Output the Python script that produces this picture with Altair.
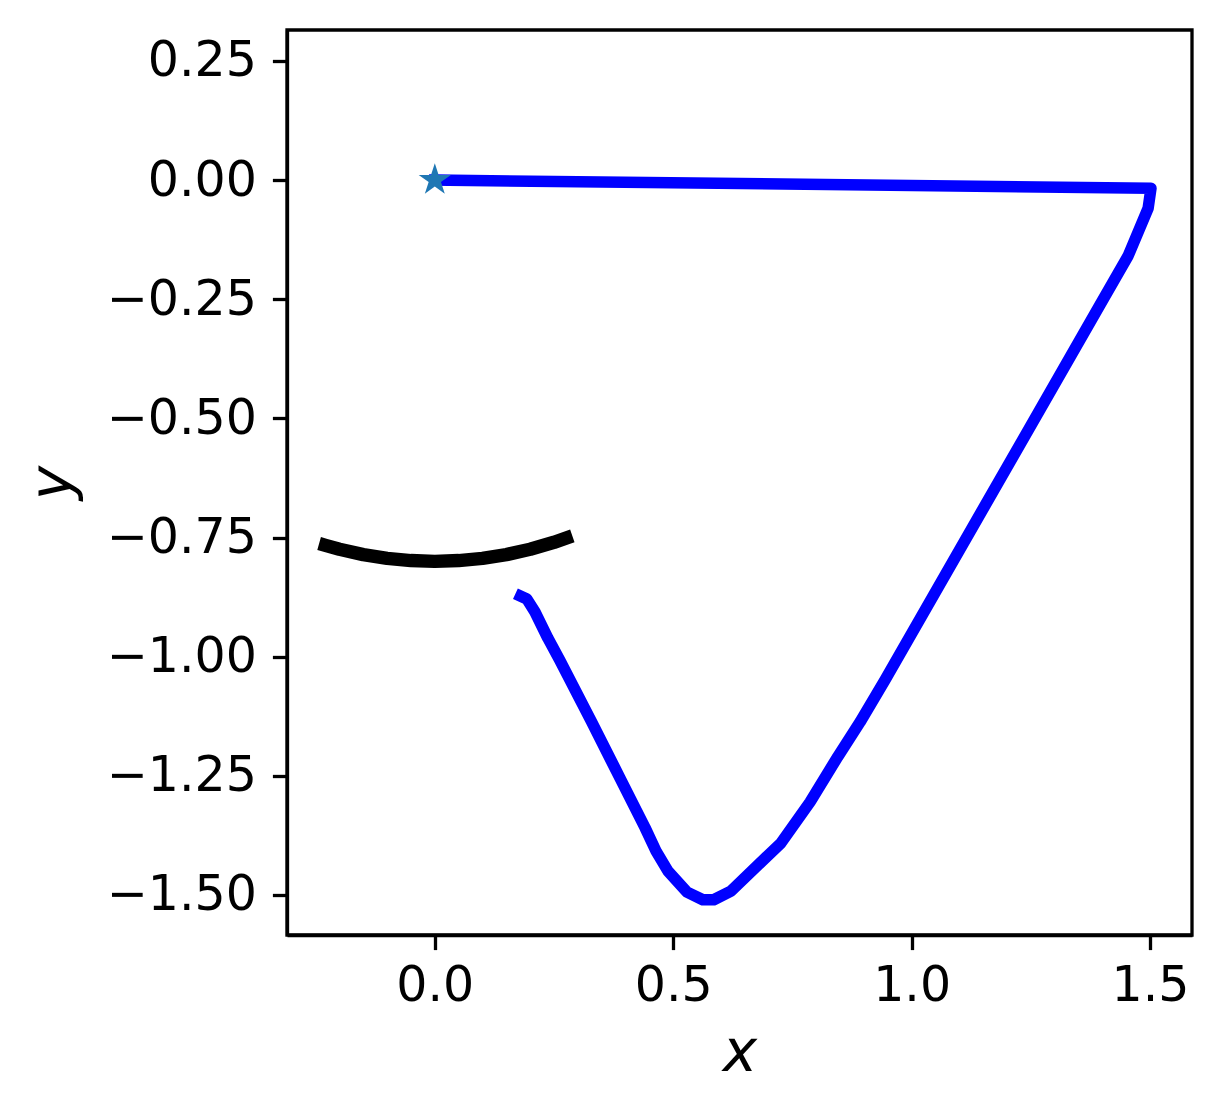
import altair as alt
import pandas as pd

# Blue trajectory
traj_x = [0.0, 1.502, 1.496, 1.454, 1.395, 0.944, 0.892, 0.845, 0.787, 0.726,
          0.621, 0.585, 0.562, 0.529, 0.489, 0.464, 0.441, 0.388, 0.329, 0.262,
          0.237, 0.210, 0.193, 0.180]
traj_y = [0.0, -0.017, -0.059, -0.159, -0.262, -1.049, -1.137, -1.210, -1.305, -1.391,
          -1.492, -1.510, -1.510, -1.494, -1.450, -1.408, -1.359, -1.254, -1.137, -1.007,
          -0.961, -0.906, -0.879, -0.873]

# Black arc
arc_x = [-0.229, -0.2, -0.15, -0.1, -0.05, 0.0, 0.05, 0.1, 0.15, 0.2, 0.25, 0.275]
arc_y = [-0.7665, -0.7746, -0.7858, -0.7937, -0.7984, -0.8, -0.7984, -0.7937,
         -0.7858, -0.7746, -0.7599, -0.7513]

# Start marker
start_x = [0.0]
start_y = [0.0]

x_ticks = [0.0, 0.5, 1.0, 1.5]
y_ticks = [0.25, 0.0, -0.25, -0.5, -0.75, -1.0, -1.25, -1.5]
x_domain = [-0.310, 1.588]
y_domain = [-1.584, 0.315]

traj = pd.DataFrame({"x": traj_x, "y": traj_y, "i": list(range(len(traj_x)))})
arc = pd.DataFrame({"x": arc_x, "y": arc_y, "i": list(range(len(arc_x)))})
start = pd.DataFrame({"x": start_x, "y": start_y})

xs = alt.Scale(domain=x_domain, nice=False, zero=False)
ys = alt.Scale(domain=y_domain, nice=False, zero=False)

xax = alt.Axis(values=x_ticks, format=".1f", title="x", grid=False,
               labelPadding=12, titlePadding=14, titleFontStyle="italic",
               titleFontSize=58)
yax = alt.Axis(values=y_ticks, format=".2f", title="y", grid=False,
               labelPadding=16, titlePadding=24, titleFontStyle="italic",
               titleFontSize=58)

X = alt.X("x:Q", scale=xs, axis=xax)
Y = alt.Y("y:Q", scale=ys, axis=yax)

arc_layer = alt.Chart(arc).mark_line(color="black", strokeWidth=13.5, strokeCap="square",
                                      strokeJoin="round", clip=True).encode(
    x=X, y=Y, order="i:Q")

traj_layer = alt.Chart(traj).mark_line(color="#0000ff", strokeWidth=11.5, strokeCap="square",
                                        strokeJoin="round", clip=True).encode(
    x=X, y=Y, order="i:Q")

star_path = ("M0,-1L0.225,-0.309L0.951,-0.309L0.363,0.118L0.588,0.809L0,0.382"
             "L-0.588,0.809L-0.363,0.118L-0.951,-0.309L-0.225,-0.309Z")
star_layer = alt.Chart(start).mark_point(shape=star_path, filled=True, color="#1f77b4",
                                         size=1150, opacity=1).encode(x=X, y=Y)

chart = alt.layer(arc_layer, traj_layer, star_layer).properties(
    width=905, height=905,
    autosize=alt.AutoSizeParams(type="none"),
    padding={"left": 279, "top": 22, "right": 21, "bottom": 173},
    background="white",
).configure_view(
    stroke="black", strokeWidth=3.3
).configure_axis(
    domainColor="black", domainWidth=3.3,
    tickColor="black", tickWidth=3.3, tickSize=14.6,
    labelFont="DejaVu Sans", labelFontSize=49, labelColor="black",
    titleFont="DejaVu Sans", titleColor="black", titleFontWeight="normal",
)

chart.save("out.html", embed_options={"renderer": "svg", "actions": False})
